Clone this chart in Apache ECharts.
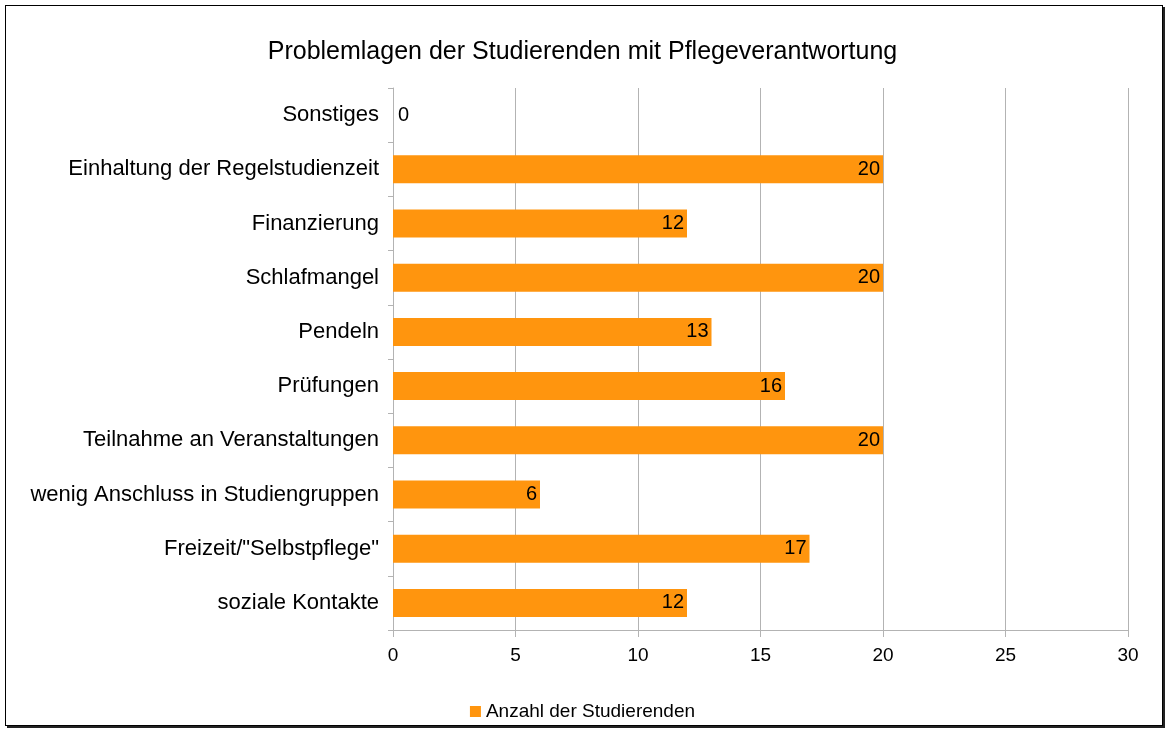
<!DOCTYPE html>
<html lang="de">
<head>
<meta charset="utf-8">
<title>Problemlagen der Studierenden mit Pflegeverantwortung</title>
<script src="https://cdn.jsdelivr.net/npm/echarts@6/dist/echarts.min.js"></script>
<style>
  body { margin:0; background:#fff; }
  #container { position:absolute; left:0; top:0; width:1165px; height:729px; }
  #frame { position:absolute; left:5px; top:5px; width:1156px; height:719px;
           border:1px solid #000; box-shadow:2px 2px 0 #222; pointer-events:none; }
</style>
</head>
<body>
<div id="container"></div>
<div id="frame"></div>
<script>
// Kategorien von unten nach oben
var categories = ['soziale Kontakte', 'Freizeit/"Selbstpflege"', 'wenig Anschluss in Studiengruppen',
  'Teilnahme an Veranstaltungen', 'Prüfungen', 'Pendeln', 'Schlafmangel', 'Finanzierung',
  'Einhaltung der Regelstudienzeit', 'Sonstiges'];
var anzahl = [12, 17, 6, 20, 16, 13, 20, 12, 20, 0];
var xTicks = [0, 5, 10, 15, 20, 25, 30];

var font = 'Liberation Sans, Arial, sans-serif';
var myChart = echarts.init(document.getElementById('container'));

var option = {
  animation: false,
  title: {
    text: 'Problemlagen der Studierenden mit Pflegeverantwortung',
    left: 'center', top: 35,
    textStyle: { fontFamily: font, fontSize: 25, fontWeight: 'normal', color: '#000' }
  },
  legend: {
    data: ['Anzahl der Studierenden'],
    left: 'center', top: 697,
    icon: 'rect', itemWidth: 11, itemHeight: 11, itemGap: 7,
    textStyle: { fontFamily: font, fontSize: 19, color: '#000' }
  },
  grid: { left: 393, right: 37, top: 88, bottom: 99 },
  xAxis: {
    type: 'value', min: xTicks[0], max: xTicks[xTicks.length - 1], interval: 5,
    axisLine: { show: true, lineStyle: { color: '#b3b3b3' } },
    axisTick: { show: true, length: 7, lineStyle: { color: '#b3b3b3' } },
    splitLine: { lineStyle: { color: '#b3b3b3' } },
    axisLabel: { fontFamily: font, fontSize: 19, color: '#000', margin: 16 }
  },
  yAxis: {
    type: 'category', data: categories,
    axisLine: { show: true, lineStyle: { color: '#b3b3b3' } },
    axisTick: { show: true, length: 5, lineStyle: { color: '#b3b3b3' } },
    axisLabel: { fontFamily: font, fontSize: 22, color: '#000', margin: 14 }
  },
  series: [{
    name: 'Anzahl der Studierenden',
    type: 'bar',
    barWidth: 28,
    itemStyle: { color: '#ff950e' },
    label: {
      show: true, position: 'insideRight', distance: 3,
      fontFamily: font, fontSize: 20, color: '#000'
    },
    data: anzahl.map(function (v) {
      return v === 0 ? { value: v, label: { position: 'right', distance: 5 } } : v;
    })
  }]
};
myChart.setOption(option);
</script>
</body>
</html>
